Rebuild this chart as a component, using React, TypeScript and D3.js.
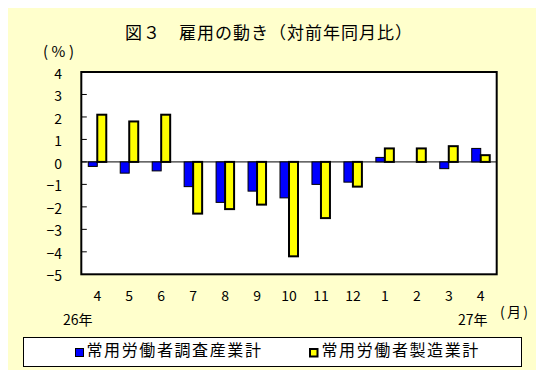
import React from "react";
import * as d3 from "d3";

const months = ["4", "5", "6", "7", "8", "9", "10", "11", "12", "1", "2", "3", "4"];
const allIndustries = [-0.2, -0.5, -0.4, -1.1, -1.8, -1.3, -1.6, -1.0, -0.9, 0.2, 0.0, -0.3, 0.6];
const manufacturing = [2.1, 1.8, 2.1, -2.3, -2.1, -1.9, -4.2, -2.5, -1.1, 0.6, 0.6, 0.7, 0.3];
const yTicks = [4, 3, 2, 1, 0, -1, -2, -3, -4, -5];
const seriesNames = ["常用労働者調査産業計", "常用労働者製造業計"];
const title = "図３　雇用の動き（対前年同月比）";

const W = 544;
const H = 378;
const FONT = "'Noto Sans CJK JP', 'Noto Sans', sans-serif";

export default function App() {
  const left = 81.3;
  const right = 496.7;
  const top = 72;
  const bottom = 274.3;
  const idx = months.map((_, i) => i);
  const x = d3.scaleBand<number>().domain(idx).range([left, right]).paddingInner(0).paddingOuter(0);
  const y = d3.scaleLinear().domain([-5, 4]).range([bottom, top]);
  const bw = 9;
  const y0 = y(0);
  const fmt = (v: number) => (v < 0 ? "−" + Math.abs(v) : String(v));

  return (
    <div style={{ margin: -8, width: W, height: H }}>
      <svg width={W} height={H} style={{ display: "block", fontFamily: FONT }}>
        <rect x={0.5} y={0.5} width={541} height={376} fill="#FFFFCC" stroke="#000" strokeWidth={1} />
        <text x={125} y={39} fontSize={17} letterSpacing={1} fill="#000">{title}</text>
        <text x={43} y={57} fontSize={15} fill="#000" textLength={31} lengthAdjust="spacing">(%)</text>

        <rect x={left} y={top} width={right - left} height={bottom - top} fill="#fff" />
        {yTicks.map((t) => (
          <g key={"t" + t}>
            {t !== 4 && t !== -5 && (
              <line x1={left} x2={left + 5.5} y1={y(t)} y2={y(t)} stroke="#000" strokeWidth={1} />
            )}
            <text x={62} y={y(t) + 1} fontSize={14} textAnchor="end" dominantBaseline="central" fill="#000">
              {fmt(t)}
            </text>
          </g>
        ))}
        <line x1={left} x2={right} y1={y0} y2={y0} stroke="#000" strokeWidth={1} />

        {idx.map((i) => {
          const c = (x(i) as number) + x.bandwidth() / 2;
          const a = allIndustries[i];
          const m = manufacturing[i];
          return (
            <g key={"b" + i}>
              {a !== 0 && (
                <rect
                  x={c - bw}
                  y={Math.min(y(a), y0)}
                  width={bw}
                  height={Math.abs(y(a) - y0)}
                  fill="#0000FF"
                  stroke="#000"
                  strokeWidth={1}
                />
              )}
              {m !== 0 && (
                <rect
                  x={c}
                  y={Math.min(y(m), y0)}
                  width={bw}
                  height={Math.abs(y(m) - y0)}
                  fill="#FFFF00"
                  stroke="#000"
                  strokeWidth={2}
                />
              )}
              <text x={c} y={301} fontSize={14} textAnchor="middle" fill="#000">
                {months[i]}
              </text>
            </g>
          );
        })}
        <rect x={left} y={top} width={right - left} height={bottom - top} fill="none" stroke="#000" strokeWidth={2} />

        <text x={63} y={325} fontSize={14} fill="#000">26年</text>
        <text x={458} y={325} fontSize={14} fill="#000">27年</text>
        <text x={500} y={317} fontSize={14} fill="#000" textLength={28} lengthAdjust="spacing">(月)</text>

        <rect x={23.5} y={337.5} width={498} height={29} fill="#fff" stroke="#000" strokeWidth={1} />
        <rect x={75.5} y={348.5} width={8} height={8} fill="#0000FF" stroke="#000" strokeWidth={1} />
        <text x={86.5} y={356} fontSize={16} letterSpacing={1.6} fill="#000">{seriesNames[0]}</text>
        <rect x={310} y={349} width={7.5} height={7.5} fill="#FFFF00" stroke="#000" strokeWidth={2} />
        <text x={321.5} y={356} fontSize={16} letterSpacing={1.6} fill="#000">{seriesNames[1]}</text>
      </svg>
    </div>
  );
}
